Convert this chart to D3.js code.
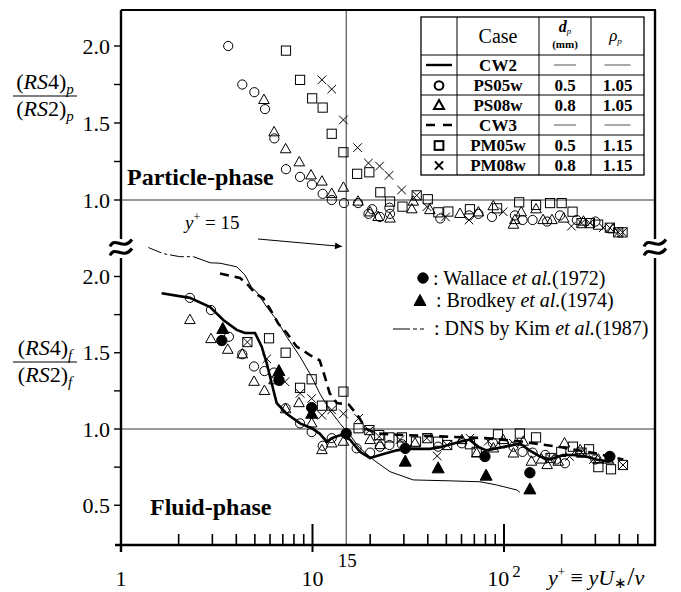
<!DOCTYPE html>
<html><head><meta charset="utf-8">
<script src="https://cdn.jsdelivr.net/npm/d3@7"></script>
<style>
body{margin:0;background:#fff}
svg{display:block}
</style>
</head><body>
<svg id="c" width="681" height="592" font-family="'Liberation Serif', 'Times New Roman', Times, serif"></svg>
<script>
// ---------------- DATA ([y+, value]) ----------------
// Upper panel: particle phase (RS4)p/(RS2)p
const ps05P = [[3.63,2.00],[4.30,1.75],[4.97,1.70],[5.65,1.59],[6.32,1.40],[7.27,1.20],[8.61,1.15],[9.94,1.10],[11.3,1.04],[12.6,1.00],[14.6,0.98],[17.3,0.98],[19.6,0.91],[20.5,0.94],[22.5,0.89],[25.2,0.95],[25.4,0.91],[46.5,0.88],[65.7,0.90],[73.5,0.91],[86.5,0.89],[114,0.90],[125,0.87],[141,0.87],[168,0.86],[196,0.90],[240,0.87],[300,0.86]];
const ps08P = [[5.58,1.65],[6.30,1.44],[7.24,1.33],[8.53,1.245],[9.82,1.16],[11.2,1.12],[12.6,1.04],[14.5,1.08],[17.3,0.99],[20.0,0.92],[22.0,0.89],[25.4,0.88],[33.0,0.94],[33.6,0.99],[41,0.935],[58.9,0.91],[73.5,0.92],[87.9,0.96],[112,0.84],[114,0.87],[123,0.92],[147,0.94],[160,0.87],[178,0.87],[205,0.88],[260,0.86],[370,0.81]];
const pm05P = [[7.27,1.97],[8.61,1.78],[9.96,1.66],[11.3,1.60],[12.6,1.43],[14.5,1.31],[17.1,1.17],[19.8,1.18],[22.6,1.05],[25.4,0.99],[29.5,0.957],[35,1.03],[40,1.005],[45.4,0.92],[51.2,0.925],[66.4,0.94],[92,0.946],[120,0.985],[147,0.968],[174,0.98],[200,0.98],[228,0.924],[254,0.85],[281,0.85],[310,0.84],[357,0.82],[395,0.79],[416,0.79]];
const pm08P = [[11.2,1.78],[12.6,1.72],[14.5,1.52],[17.2,1.34],[19.6,1.24],[22.4,1.22],[25.1,1.16],[29.2,1.065],[35,1.03],[39.6,0.957],[49.5,0.89],[65.7,0.87],[99,0.924],[225,0.83],[254,0.85],[281,0.85],[330,0.82],[357,0.82],[395,0.79],[416,0.79]];

// Lower panel: fluid phase (RS4)f/(RS2)f
const cw2 = [[1.63,1.89],[2.29,1.86],[2.92,1.80],[3.42,1.715],[4.02,1.65],[4.44,1.63],[5.01,1.63],[5.43,1.54],[5.77,1.43],[6.12,1.30],[6.50,1.17],[7.33,1.10],[8.61,1.037],[9.9,1.005],[10.9,0.97],[11.9,0.915],[12.6,0.94],[14,0.96],[15.7,0.93],[17.7,0.85],[20,0.81],[22.5,0.83],[27.5,0.86],[31,0.87],[41,0.87],[46.4,0.88],[58.9,0.917],[66,0.93],[74,0.88],[81,0.86],[112,0.895],[121,0.906],[136,0.86],[154,0.82],[174,0.80],[203,0.83],[229,0.83],[268,0.82],[303,0.80],[357,0.785]];
const cw3 = [[3.29,2.02],[4.18,1.99],[4.53,1.955],[5.01,1.89],[5.53,1.857],[5.98,1.79],[6.64,1.69],[7.33,1.63],[8.27,1.54],[9.7,1.485],[10.9,1.45],[11.6,1.343],[12.3,1.234],[13.4,1.17],[15.5,1.16],[17.4,1.08],[19,1.0],[22,0.97],[30,0.96],[50,0.95],[80,0.94],[120,0.92],[200,0.88],[300,0.84],[420,0.80]];
const dns = [[1.39,2.19],[1.66,2.15],[2.03,2.13],[2.39,2.13],[2.92,2.09],[3.29,2.087],[4.02,2.064],[4.44,2.01],[4.8,1.93],[5.1,1.90],[5.77,1.80],[6.5,1.715],[7.33,1.605],[8.61,1.474],[9.9,1.343],[10.9,1.234],[12.3,1.125],[13.9,1.037],[15.7,0.96],[17.5,0.88],[20.7,0.80],[25.4,0.72],[33.6,0.666],[52.3,0.66],[74.9,0.654],[91.6,0.633],[116.8,0.60],[121,0.585]];
const ps05L = [[2.29,1.86],[2.95,1.78],[3.66,1.605],[4.3,1.49],[4.95,1.41],[5.61,1.38],[6.29,1.37],[7.24,1.136],[8.61,1.037],[9.9,0.98],[11.3,0.89],[12.6,0.94],[17,0.873],[20,0.845],[22.5,0.884],[25.2,0.895],[29.3,0.90],[45.3,0.884],[60.2,0.906],[87.4,0.91],[100,0.906],[112,0.884],[125,0.85],[141,0.845],[164,0.83],[187,0.80],[208,0.775],[300,0.80]];
const ps08L = [[2.29,1.715],[2.95,1.59],[3.61,1.52],[4.3,1.49],[4.95,1.31],[5.61,1.25],[6.29,1.32],[7.24,1.13],[8.5,1.17],[9.9,1.037],[11.2,0.862],[12.6,0.906],[14.5,0.917],[20,0.928],[22.5,0.895],[34.3,0.906],[60.2,0.928],[72,0.84],[88,0.873],[99,0.928],[112,0.84],[126,0.917],[139,0.786],[157,0.80],[168,0.764],[192,0.786],[207,0.906],[250,0.862],[311,0.80],[350,0.80]];
const pm05L = [[4.57,1.57],[5.93,1.595],[7.24,1.50],[8.61,1.27],[9.9,1.326],[11.2,1.153],[12.6,1.153],[14.5,1.245],[17.4,1.005],[19.8,0.993],[22.3,0.96],[25.2,0.945],[29.3,0.945],[34.7,0.917],[39.8,0.94],[45.3,0.917],[50.5,0.895],[66.4,0.90],[72,0.85],[93,0.965],[121,0.97],[147,0.945],[175,0.81],[199,0.85],[229,0.884],[254,0.845],[278,0.867],[311,0.75],[362,0.736],[418,0.764]];
const pm08L = [[4.57,1.57],[5.77,1.46],[7.18,1.31],[8.61,1.234],[9.9,1.20],[11.2,1.09],[12.6,1.125],[14.5,1.10],[17.4,1.07],[19.8,0.99],[22.3,0.95],[28.6,0.93],[39.5,0.94],[44.8,0.823],[50.5,0.895],[66.4,0.94],[82.7,0.92],[112,0.906],[175,0.81],[220,0.82],[254,0.845],[293,0.80],[357,0.80],[418,0.764]];
const wallace = [[3.36,1.58],[6.68,1.32],[9.9,1.14],[15,0.97],[30.5,0.873],[79.5,0.82],[136.5,0.713],[357,0.82]];
const brodkey = [[3.4,1.656],[6.68,1.38],[9.9,1.10],[30.5,0.786],[45.3,0.742],[80.6,0.694],[136.5,0.604]];

// ticks / labels
const yTicksUpper = [1, 1.25, 1.5, 1.75, 2];
const yTicksLower = [0.5, 0.75, 1, 1.25, 1.5, 1.75, 2];
const xMajor = [1, 10, 100];
const xMinor = [2,3,4,5,6,7,8,9,20,30,40,50,60,70,80,90,200,300,400,500];
const caseNames = ["CW2","PS05w","PS08w","CW3","PM05w","PM08w"];
const caseSymbols = ["line","circle","triangle","dash","square","cross"];
const dpVals = ["","0.5","0.8","","0.5","0.8"];
const rhoVals = ["","1.05","1.05","","1.15","1.15"];

// ---------------- LAYOUT ----------------
const svg = d3.select("#c");
svg.append("rect").attr("width",681).attr("height",592).attr("fill","#fff");
const L = 121, R = 655, T = 10, B = 545, gap0 = 239, gap1 = 258;
const x = d3.scaleLog().domain([1, Math.pow(10,(R-L)/191.5)]).range([L,R]);
const yU = d3.scaleLinear().domain([1,2]).range([200,46]);
const yL = d3.scaleLinear().domain([1,2]).range([429,276.5]);

// gridlines
svg.append("line").attr("x1",L).attr("x2",R).attr("y1",yU(1)).attr("y2",yU(1)).attr("stroke","#000").attr("stroke-width",0.8);
svg.append("line").attr("x1",L).attr("x2",R).attr("y1",yL(1)).attr("y2",yL(1)).attr("stroke","#000").attr("stroke-width",0.8);
svg.append("line").attr("x1",x(15)).attr("x2",x(15)).attr("y1",T).attr("y2",B).attr("stroke","#000").attr("stroke-width",0.8);

// ---------------- markers ----------------
function marker(g, type, cx, cy, s) {
  s = s || 1;
  const st = {stroke:"#000","stroke-width":1,fill:"none"};
  let el;
  if (type === "circle") el = g.append("circle").attr("cx",cx).attr("cy",cy).attr("r",4.6*s);
  else if (type === "triangle") el = g.append("path").attr("d",`M${cx},${cy-5.8*s}L${cx+5.3*s},${cy+3.6*s}L${cx-5.3*s},${cy+3.6*s}Z`);
  else if (type === "square") el = g.append("rect").attr("x",cx-4.6*s).attr("y",cy-4.6*s).attr("width",9.2*s).attr("height",9.2*s);
  else if (type === "cross") el = g.append("path").attr("d",`M${cx-4.3*s},${cy-4.3*s}L${cx+4.3*s},${cy+4.3*s}M${cx+4.3*s},${cy-4.3*s}L${cx-4.3*s},${cy+4.3*s}`);
  else if (type === "fcircle") { el = g.append("circle").attr("cx",cx).attr("cy",cy).attr("r",5.2*s); st.fill="#000"; }
  else if (type === "ftriangle") { el = g.append("path").attr("d",`M${cx},${cy-6.5*s}L${cx+6*s},${cy+4.5*s}L${cx-6*s},${cy+4.5*s}Z`); st.fill="#000"; }
  for (const k in st) el.attr(k, st[k]);
  return el;
}
function series(data, y, type) {
  const g = svg.append("g");
  data.forEach(d => marker(g, type, x(d[0]), y(d[1])));
}

// lower lines
const lineL = d3.line().x(d => x(d[0])).y(d => yL(d[1]));
svg.append("path").attr("d", lineL(dns.filter(d => d[0] <= 2.4))).attr("fill","none").attr("stroke","#000").attr("stroke-width",1).attr("stroke-dasharray","14,3,3,3");
svg.append("path").attr("d", lineL(dns.filter(d => d[0] >= 2.39))).attr("fill","none").attr("stroke","#000").attr("stroke-width",1);
svg.append("path").attr("d", lineL(cw3)).attr("fill","none").attr("stroke","#000").attr("stroke-width",2.6).attr("stroke-dasharray","9,6");
svg.append("path").attr("d", lineL(cw2)).attr("fill","none").attr("stroke","#000").attr("stroke-width",2.6);

series(ps05P, yU, "circle");
series(ps08P, yU, "triangle");
series(pm05P, yU, "square");
series(pm08P, yU, "cross");
series(ps05L, yL, "circle");
series(ps08L, yL, "triangle");
series(pm05L, yL, "square");
series(pm08L, yL, "cross");
series(wallace, yL, "fcircle");
series(brodkey, yL, "ftriangle");

// ---------------- frame / axes ----------------
const ax = svg.append("g").attr("stroke","#000").attr("fill","none");
ax.append("line").attr("x1",L).attr("x2",L).attr("y1",T).attr("y2",gap0).attr("stroke-width",2.4);
ax.append("line").attr("x1",L).attr("x2",L).attr("y1",gap1).attr("y2",B+7).attr("stroke-width",2.4);
ax.append("line").attr("x1",R).attr("x2",R).attr("y1",T).attr("y2",gap0).attr("stroke-width",2.4);
ax.append("line").attr("x1",R).attr("x2",R).attr("y1",gap1).attr("y2",B+1).attr("stroke-width",2.4);
ax.append("line").attr("x1",L).attr("x2",R+1).attr("y1",T).attr("y2",T).attr("stroke-width",2);
ax.append("line").attr("x1",L-6).attr("x2",R+1).attr("y1",B).attr("y2",B).attr("stroke-width",2.4);

// break symbols
function brk(cx, cy) {
  const g = svg.append("g").attr("transform",`translate(${cx},${cy})`);
  g.append("rect").attr("x",-11).attr("y",-9).attr("width",22).attr("height",18).attr("fill","#fff");
  [-4.5, 4.5].forEach(o => g.append("path")
    .attr("d",`M-11,${o+3} C-6,${o-8} 2,${o+8} 11,${o-4}`)
    .attr("fill","none").attr("stroke","#000").attr("stroke-width",3));
}
brk(L, 248); brk(R, 248);

// y axes
function yAxis(scale, vals) {
  const g = svg.append("g");
  vals.forEach(v => {
    g.append("line").attr("x1",L-7).attr("x2",L).attr("y1",scale(v)).attr("y2",scale(v)).attr("stroke","#000").attr("stroke-width",1.4);
    if (Math.abs(v*2 - Math.round(v*2)) < 1e-9)
      g.append("text").attr("x",110).attr("y",scale(v)+7.5).attr("text-anchor","end").attr("font-size",22).text(v.toFixed(1));
  });
}
yAxis(yU, yTicksUpper);
yAxis(yL, yTicksLower);

// x axis ticks
xMajor.forEach(v => {
  svg.append("line").attr("x1",x(v)).attr("x2",x(v)).attr("y1", v===1 ? B : B-21).attr("y2",B+7).attr("stroke","#000").attr("stroke-width",v===1?1.5:2);
});
xMinor.forEach(v => {
  svg.append("line").attr("x1",x(v)).attr("x2",x(v)).attr("y1",B-11).attr("y2",B).attr("stroke","#000").attr("stroke-width",1.6);
});
svg.append("text").attr("x",x(1)).attr("y",586).attr("text-anchor","middle").attr("font-size",22).text("1");
svg.append("text").attr("x",x(10)).attr("y",586).attr("text-anchor","middle").attr("font-size",22).text("10");
svg.append("text").attr("x",x(15)+1).attr("y",567).attr("text-anchor","middle").attr("font-size",19).text("15");
const t100 = svg.append("text").attr("x",x(100)).attr("y",586).attr("text-anchor","middle").attr("font-size",22);
t100.append("tspan").text("10");
t100.append("tspan").attr("dy",-9).attr("dx",3).attr("font-size",17).text("2");
const xl = svg.append("text").attr("x",548).attr("y",585).attr("font-size",22);
xl.append("tspan").attr("font-style","italic").text("y");
xl.append("tspan").attr("dy",-9).attr("font-size",13).text("+");
xl.append("tspan").attr("dy",9).text(" \u2261 ");
xl.append("tspan").attr("font-style","italic").text("yU");
xl.append("tspan").attr("dy",3).attr("font-size",15).text("\u2217");
xl.append("tspan").attr("dy",-3).attr("font-size",26).text("/");
xl.append("tspan").attr("font-style","italic").text("\u03bd");

// y axis titles (fractions)
function frac(cy, sub) {
  const g = svg.append("g");
  const num = g.append("text").attr("x",45).attr("y",cy-7).attr("text-anchor","middle").attr("font-size",22);
  num.append("tspan").text("(");
  num.append("tspan").attr("font-style","italic").text("RS");
  num.append("tspan").text("4)");
  num.append("tspan").attr("font-style","italic").attr("font-size",15).attr("dy",5).text(sub);
  g.append("line").attr("x1",13).attr("x2",77).attr("y1",cy).attr("y2",cy).attr("stroke","#000").attr("stroke-width",1.2);
  const den = g.append("text").attr("x",45).attr("y",cy+20).attr("text-anchor","middle").attr("font-size",22);
  den.append("tspan").text("(");
  den.append("tspan").attr("font-style","italic").text("RS");
  den.append("tspan").text("2)");
  den.append("tspan").attr("font-style","italic").attr("font-size",15).attr("dy",5).text(sub);
}
frac(96, "p");
frac(362, "f");

// phase labels
svg.append("text").attr("x",127).attr("y",185).attr("font-size",24).attr("font-weight","bold").text("Particle-phase");
svg.append("text").attr("x",150).attr("y",515).attr("font-size",24).attr("font-weight","bold").text("Fluid-phase");

// y+ = 15 annotation
const ya = svg.append("text").attr("x",185).attr("y",229).attr("font-size",19);
ya.append("tspan").attr("font-style","italic").text("y");
ya.append("tspan").attr("dy",-8).attr("font-size",12).text("+");
ya.append("tspan").attr("dy",8).text(" = 15");
svg.append("defs").append("marker").attr("id","ah").attr("viewBox","0 0 10 10").attr("refX",10).attr("refY",5)
  .attr("markerWidth",10).attr("markerHeight",7).attr("orient","auto").attr("markerUnits","userSpaceOnUse")
  .append("path").attr("d","M0,0L10,5L0,10Z").attr("fill","#000");
svg.append("line").attr("x1",258).attr("y1",239).attr("x2",342).attr("y2",246.5).attr("stroke","#000").attr("stroke-width",1).attr("marker-end","url(#ah)");

// ---------------- legend table ----------------
const colX = [421,457,539,591,644];
const rowY = [17,55,75,95,115,135,155,175];
const tb = svg.append("g");
tb.append("rect").attr("x",colX[0]).attr("y",rowY[0]).attr("width",colX[4]-colX[0]).attr("height",rowY[7]-rowY[0]).attr("fill","#fff").attr("stroke","#000").attr("stroke-width",1.3);
colX.slice(1,4).forEach(cx => tb.append("line").attr("x1",cx).attr("x2",cx).attr("y1",rowY[0]).attr("y2",rowY[7]).attr("stroke","#000").attr("stroke-width",1));
rowY.slice(1,7).forEach(ry => tb.append("line").attr("x1",colX[0]).attr("x2",colX[4]).attr("y1",ry).attr("y2",ry).attr("stroke","#000").attr("stroke-width",1));
const c1 = (colX[0]+colX[1])/2, c2 = (colX[1]+colX[2])/2, c3 = (colX[2]+colX[3])/2, c4 = (colX[3]+colX[4])/2;
tb.append("text").attr("x",c2).attr("y",43).attr("text-anchor","middle").attr("font-size",20).text("Case");
const dh = tb.append("text").attr("x",c3).attr("y",32).attr("text-anchor","middle").attr("font-size",16);
dh.append("tspan").attr("font-style","italic").attr("font-weight","bold").text("d");
dh.append("tspan").attr("font-style","italic").attr("font-size",9).attr("dy",2).text("p");
tb.append("text").attr("x",c3).attr("y",48).attr("text-anchor","middle").attr("font-size",11).attr("font-weight","bold").text("(mm)");
const rh = tb.append("text").attr("x",c4-2).attr("y",41).attr("text-anchor","middle").attr("font-size",17);
rh.append("tspan").attr("font-style","italic").text("\u03c1");
rh.append("tspan").attr("font-style","italic").attr("font-size",9).attr("dy",3).text("p");
caseNames.forEach((n,i) => {
  const cy = (rowY[i+1]+rowY[i+2])/2;
  const sym = caseSymbols[i];
  if (sym === "line") tb.append("line").attr("x1",c1-13).attr("x2",c1+13).attr("y1",cy).attr("y2",cy).attr("stroke","#000").attr("stroke-width",2.4);
  else if (sym === "dash") tb.append("line").attr("x1",c1-13).attr("x2",c1+13).attr("y1",cy).attr("y2",cy).attr("stroke","#000").attr("stroke-width",2.4).attr("stroke-dasharray","9,8");
  else { const m = marker(tb, sym, c1, cy+0.5, 0.95); m.attr("stroke-width",2); }
  tb.append("text").attr("x",c2).attr("y",cy+5.5).attr("text-anchor","middle").attr("font-size",17).attr("font-weight","bold").text(n);
  if (dpVals[i]) tb.append("text").attr("x",c3).attr("y",cy+5.5).attr("text-anchor","middle").attr("font-size",17).attr("font-weight","bold").text(dpVals[i]);
  else tb.append("line").attr("x1",c3-11).attr("x2",c3+11).attr("y1",cy).attr("y2",cy).attr("stroke","#555").attr("stroke-width",1);
  if (rhoVals[i]) tb.append("text").attr("x",c4).attr("y",cy+5.5).attr("text-anchor","middle").attr("font-size",17).attr("font-weight","bold").text(rhoVals[i]);
  else tb.append("line").attr("x1",c4-13).attr("x2",c4+13).attr("y1",cy).attr("y2",cy).attr("stroke","#555").attr("stroke-width",1);
});

// ---------------- reference legend ----------------
const lg = svg.append("g");
marker(lg, "fcircle", 423, 278);
marker(lg, "ftriangle", 420, 301);
lg.append("line").attr("x1",393).attr("x2",430).attr("y1",329).attr("y2",329).attr("stroke","#000").attr("stroke-width",1).attr("stroke-dasharray","17,3,4,3,4,6");
function refText(xx, yy, a, b) {
  const t = lg.append("text").attr("x",xx).attr("y",yy).attr("font-size",20);
  t.append("tspan").text(a);
  t.append("tspan").attr("font-style","italic").text("et al.");
  t.append("tspan").text(b);
}
refText(433, 285, ": Wallace ", "(1972)");
refText(436, 307, ": Brodkey ", "(1974)");
refText(434, 335, ": DNS by Kim ", "(1987)");
</script>
</body></html>
